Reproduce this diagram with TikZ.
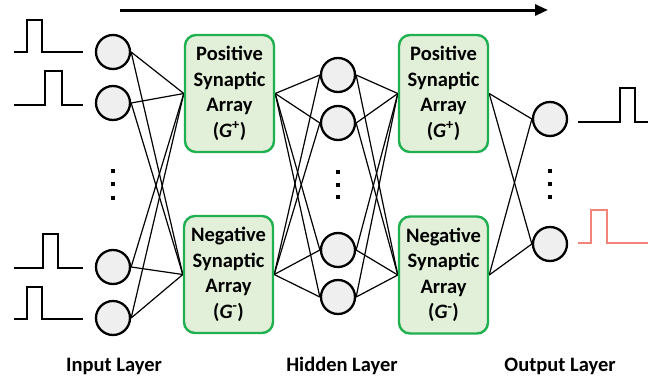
\documentclass[tikz,border=0pt]{standalone}
\usepackage{fontspec}
\setmainfont{Carlito}
\usetikzlibrary{arrows.meta,backgrounds}
\definecolor{boxfill}{HTML}{E2F0D9}
\definecolor{boxedge}{HTML}{1FB04F}
\definecolor{nodefill}{HTML}{EFEFEF}
\definecolor{redpulse}{HTML}{F4837A}
\tikzset{
  neuron/.style={circle,draw=black,fill=nodefill,line width=2.3pt,minimum size=34pt,inner sep=0pt},
  arraybox/.style={draw=boxedge,fill=boxfill,line width=2.4pt,rounded corners=11pt,minimum width=89pt,minimum height=117pt,inner sep=0pt,align=center,font=\fontsize{20.5}{25.5}\selectfont\bfseries},
  link/.style={line width=1.2pt,black},
  pulse/.style={line width=2.4pt,black},
  layerlabel/.style={font=\fontsize{20.5}{24}\selectfont\bfseries,anchor=base},
  dotmark/.style={fill=black}
}
\newcommand{\gplus}{(\textit{G}\textsuperscript{+})}
\newcommand{\gminus}{(\textit{G}\textsuperscript{-})}
\begin{document}
\begin{tikzpicture}[x=1pt,y=-1pt]
\useasboundingbox (0,0) rectangle (657,381);
% top arrow
\coordinate (arrS) at (120,10);
\coordinate (arrE) at (548,10);
\draw[line width=3pt,-{Triangle[length=13pt,width=11pt]}] (arrS) -- (arrE);
% input neurons
\node[neuron] (in1) at (113,52) {};
\node[neuron] (in2) at (113,103) {};
\node[neuron] (in3) at (113,267) {};
\node[neuron] (in4) at (113,318) {};
% arrays
\node[arraybox] (p1) at (229.5,93.5) {Positive\\Synaptic\\Array\\\gplus};
\node[arraybox] (n1) at (228.5,274.5) {Negative\\Synaptic\\Array\\\gminus};
\node[arraybox] (p2) at (443.5,93.5) {Positive\\Synaptic\\Array\\\gplus};
\node[arraybox] (n2) at (443.5,275) {Negative\\Synaptic\\Array\\\gminus};
% hidden neurons
\node[neuron] (h1) at (338,75) {};
\node[neuron] (h2) at (338,123) {};
\node[neuron] (h3) at (338,250) {};
\node[neuron] (h4) at (338,297) {};
% output neurons
\node[neuron] (o1) at (550,119) {};
\node[neuron] (o2) at (550,244) {};
% links
\begin{scope}[on background layer]
\foreach \i in {in1,in2,in3,in4}{
  \draw[link] (\i.east) -- (p1.west);
  \draw[link] (\i.east) -- (n1.west);
}
\foreach \h in {h1,h2,h3,h4}{
  \draw[link] (p1.east) -- (\h.west);
  \draw[link] (n1.east) -- (\h.west);
  \draw[link] (\h.east) -- (p2.west);
  \draw[link] (\h.east) -- (n2.west);
}
\foreach \o in {o1,o2}{
  \draw[link] (p2.east) -- (\o.west);
  \draw[link] (n2.east) -- (\o.west);
}
\end{scope}
% dots
\foreach \x/\y in {113/171,113/184,113/198,338/172,338/185,338/197,550/171,550/184,550/197}{
  \fill[dotmark] (\x-1.6,\y-1.6) rectangle (\x+1.6,\y+1.6);
}
% input pulses
\draw[pulse] (14,52) -- (27,52) -- (27,20) -- (42,20) -- (42,52) -- (83,52);
\draw[pulse] (14,105) -- (45,105) -- (45,71) -- (62,71) -- (62,105) -- (83,105);
\draw[pulse] (14,268) -- (43,268) -- (43,234) -- (58,234) -- (58,268) -- (83,268);
\draw[pulse] (14,319) -- (27,319) -- (27,287) -- (42,287) -- (42,319) -- (83,319);
% output pulses
\draw[pulse] (578,122) -- (620,122) -- (620,88) -- (635,88) -- (635,122) -- (648,122);
\draw[pulse,redpulse] (578,243) -- (591,243) -- (591,210) -- (607,210) -- (607,243) -- (648,243);
% labels
\node[layerlabel] (lin) at (114,371) {Input Layer};
\node[layerlabel] (lhid) at (342,371) {Hidden Layer};
\node[layerlabel] (lout) at (560,371) {Output Layer};
\end{tikzpicture}
\end{document}
